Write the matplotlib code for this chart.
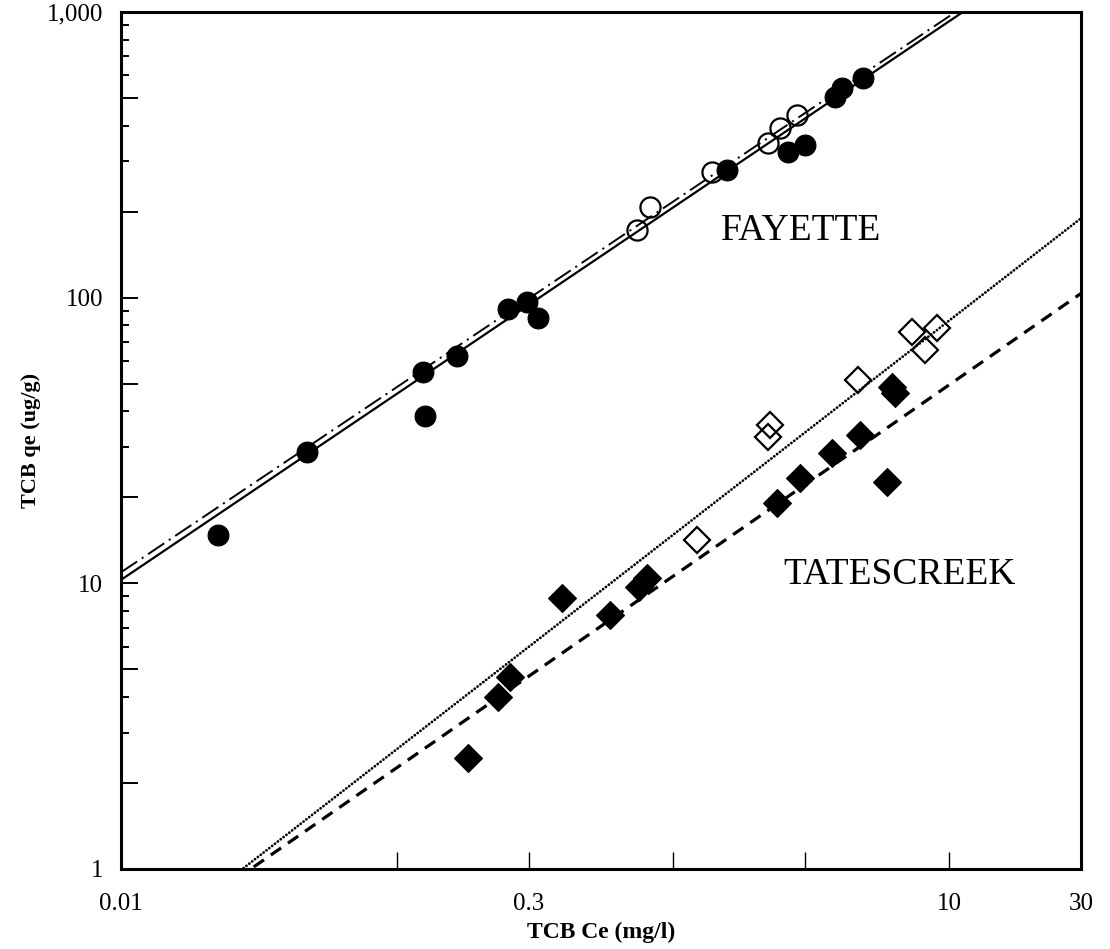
import numpy as np
import matplotlib
matplotlib.use("Agg")
import matplotlib.pyplot as plt
from matplotlib.ticker import FixedLocator, FixedFormatter, NullFormatter

plt.rcParams['font.family'] = ['Liberation Serif', 'DejaVu Serif']
plt.rcParams['lines.scale_dashes'] = False

# Fayette soil: filled = one run, open = the other
fay_closed_ce = [0.0224, 0.0472, 0.124, 0.126, 0.165, 0.252, 0.296, 0.324,
                 1.57, 2.61, 3.01, 3.86, 4.09, 4.88]
fay_closed_qe = [14.8, 28.8, 54.9, 38.5, 62.5, 91.2, 96.5, 84.9,
                 280, 323, 342, 504, 542, 587]
fay_open_ce = [0.741, 0.826, 1.38, 2.21, 2.44, 2.81]
fay_open_qe = [172, 208, 275, 348, 392, 436]

# Tatescreek soil
tat_closed_ce = [0.180, 0.232, 0.257, 0.396, 0.591, 0.753, 0.805,
                 2.38, 2.88, 3.77, 4.76, 5.96, 6.2, 6.37]
tat_closed_qe = [2.45, 4.0, 4.7, 8.9, 7.75, 9.7, 10.4,
                 19.1, 23.4, 28.6, 33.0, 22.6, 48.7, 46.4]
tat_open_ce = [1.22, 2.24, 2.21, 4.68, 7.35, 9.05, 8.19]
tat_open_qe = [14.2, 35.8, 32.5, 51.5, 75.8, 78.3, 65.6]

# Freundlich fits: (K, 1/n)
fay_closed_fit = (207.0, 0.652)
fay_open_fit = (217.0, 0.649)
tat_closed_fit = (10.6, 0.670)
tat_open_fit = (14.8, 0.750)

x_ticks = [0.01, 0.1, 0.3, 1, 3, 10, 30]
x_ticklabels = ['0.01', '', '0.3', '', '', '10', '30']
y_ticks = [1, 2, 5, 10, 20, 50, 100, 200, 500, 1000]
y_ticklabels = ['1', '', '', '10', '', '', '100', '', '', '1,000']
y_minor = [m * d for d in (1, 10, 100) for m in (3, 4, 6, 7, 8, 9)]


def freundlich(fit, ce):
    k, n_inv = fit
    return k * np.power(ce, n_inv)


fig = plt.figure(figsize=(11.1, 9.49), dpi=100)
ax = fig.add_axes([0.109, 0.0843, 0.865, 0.9031])
ax.set_xscale('log')
ax.set_yscale('log')
ax.set_xlim(0.01, 30)
ax.set_ylim(1, 1000)

ce_line = np.array([0.01, 30.0])
ax.plot(ce_line, freundlich(fay_closed_fit, ce_line), color='black', lw=1.6,
        ls='-', zorder=2)
ax.plot(ce_line, freundlich(fay_open_fit, ce_line), color='black', lw=1.4,
        ls=(0, (14, 4, 1.5, 4)), zorder=2)
ax.plot(ce_line, freundlich(tat_closed_fit, ce_line), color='black', lw=2.3,
        ls=(0, (9, 6)), zorder=2)
ax.plot(ce_line, freundlich(tat_open_fit, ce_line), color='black', lw=2.0,
        ls=(0, (0.1, 2.5)), dash_capstyle='round', zorder=2)

ax.plot(fay_closed_ce, fay_closed_qe, 'o', ms=15, mfc='black', mec='black',
        mew=0.8, ls='none', zorder=3)
ax.plot(fay_open_ce, fay_open_qe, 'o', ms=14.5, mfc='none', mec='black',
        mew=1.6, ls='none', zorder=3)
ax.plot(tat_closed_ce, tat_closed_qe, 'D', ms=14, mfc='black', mec='black',
        mew=0.8, ls='none', zorder=3)
ax.plot(tat_open_ce, tat_open_qe, 'D', ms=13.5, mfc='none', mec='black',
        mew=1.6, ls='none', zorder=3)

ax.text(2.9, 171, 'FAYETTE', fontsize=27, ha='center', va='center')
ax.text(6.59, 10.7, 'TATESCREEK', fontsize=27, ha='center', va='center')

# axes frame and ticks
for side in ax.spines.values():
    side.set_linewidth(2.2)

ax.xaxis.set_major_locator(FixedLocator(x_ticks))
ax.xaxis.set_major_formatter(FixedFormatter(x_ticklabels))
ax.xaxis.set_minor_locator(FixedLocator([]))
ax.xaxis.set_minor_formatter(NullFormatter())
ax.yaxis.set_major_locator(FixedLocator(y_ticks))
ax.yaxis.set_major_formatter(FixedFormatter(y_ticklabels))
ax.yaxis.set_minor_locator(FixedLocator(y_minor))
ax.yaxis.set_minor_formatter(NullFormatter())

ax.tick_params(axis='x', which='major', direction='in', length=12, width=1.0,
               labelsize=18, pad=17, top=False)
ax.tick_params(axis='y', which='major', direction='in', length=12, width=1.4,
               labelsize=18, pad=13, right=False)
ax.tick_params(axis='y', which='minor', direction='in', length=6, width=1.4,
               right=False)

ax.set_xlabel('TCB Ce (mg/l)', fontsize=17, fontweight='bold', labelpad=5)
ax.set_ylabel('TCB qe (ug/g)', fontsize=16, fontweight='bold', labelpad=4)

fig.savefig('out.png', dpi=100, facecolor='white')
